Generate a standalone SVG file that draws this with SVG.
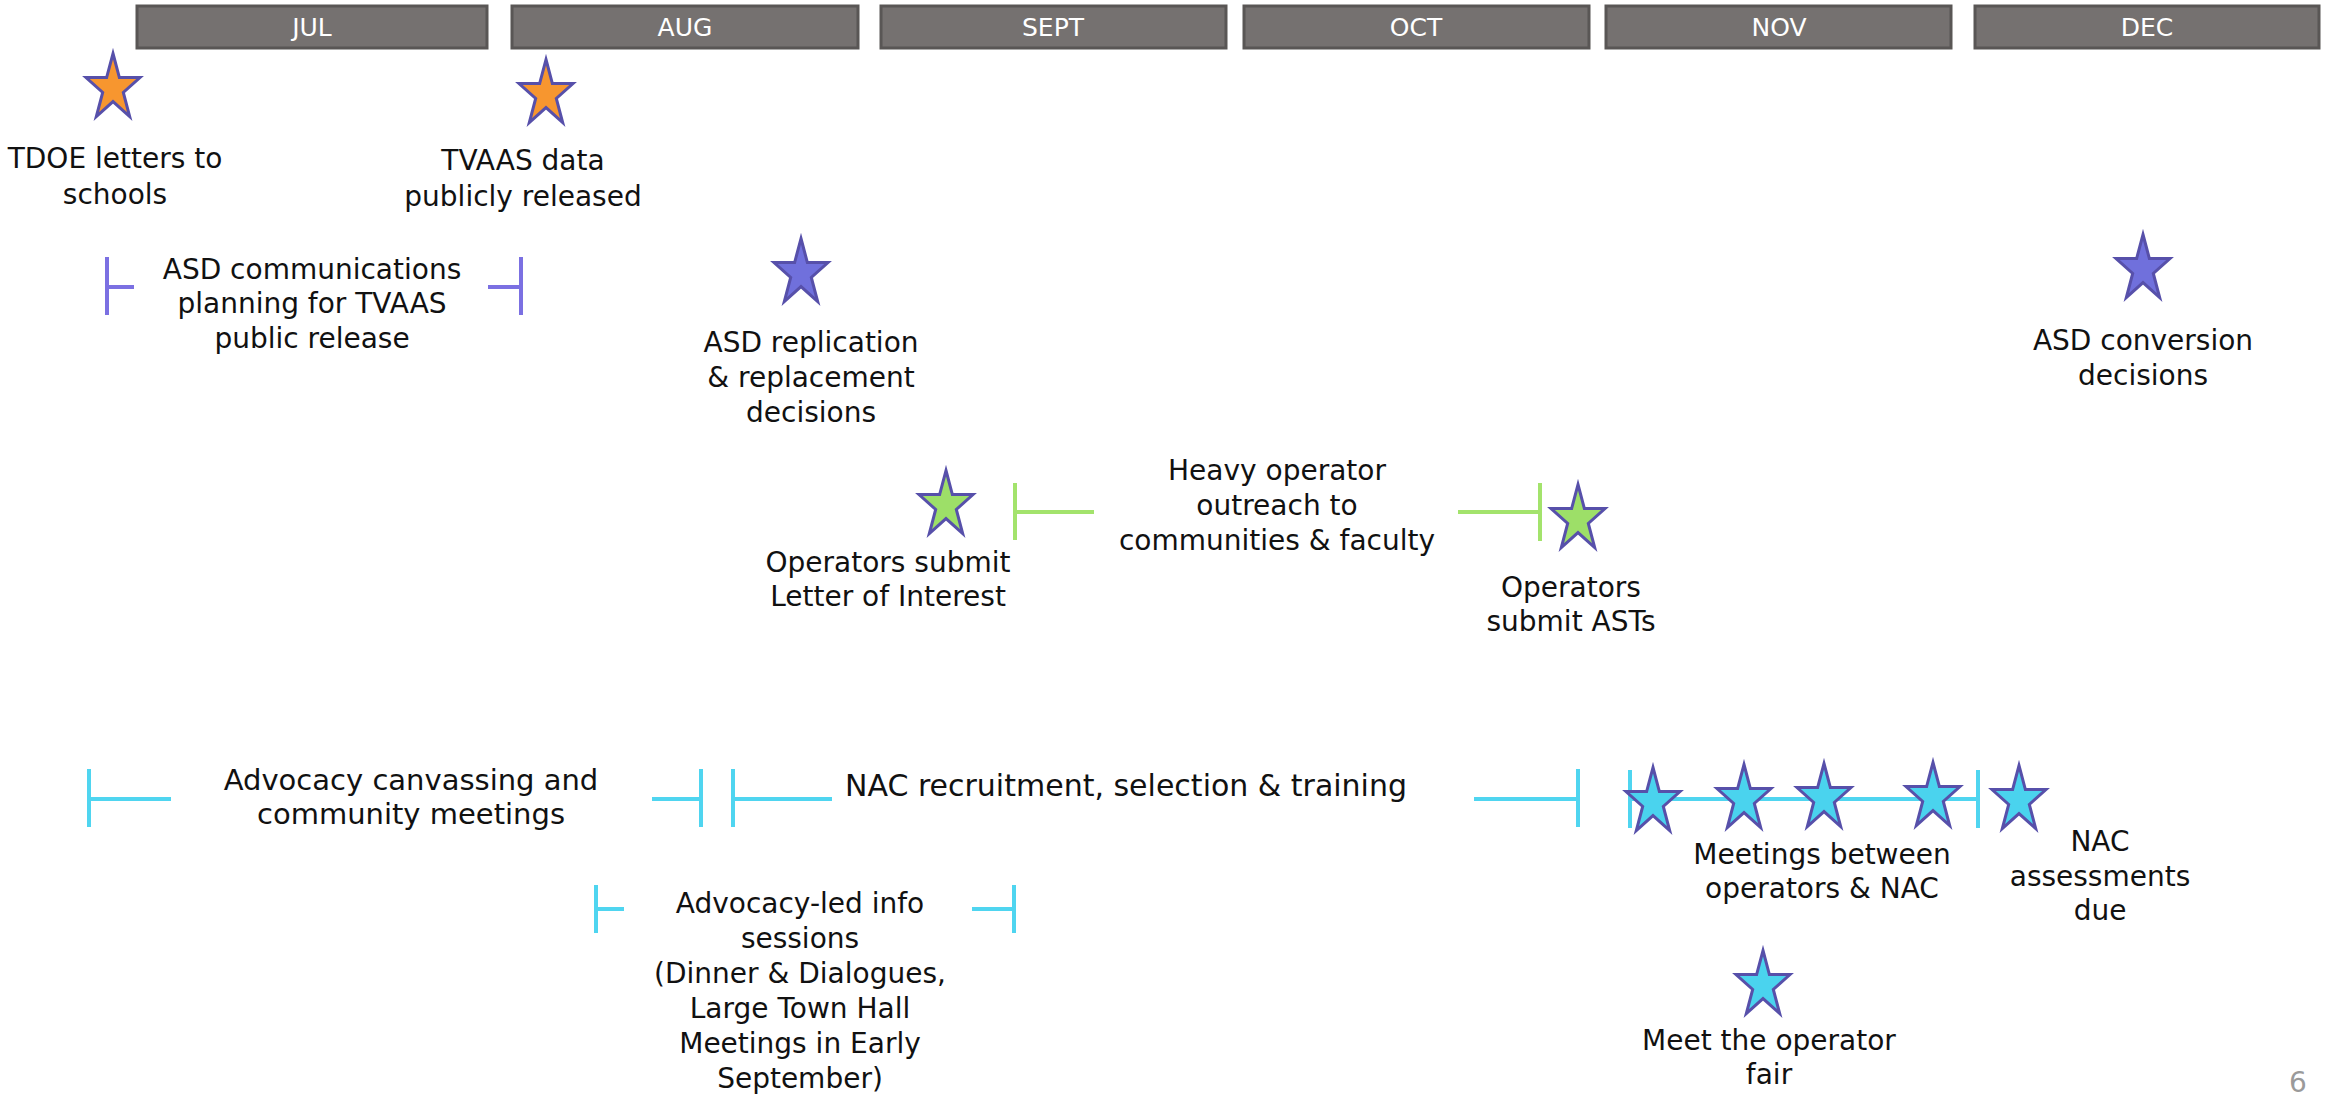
<svg xmlns="http://www.w3.org/2000/svg" xmlns:xlink="http://www.w3.org/1999/xlink" width="2341" height="1096" viewBox="0 0 2341 1096">
<style>
  .month rect { fill: #757170; stroke: #595655; stroke-width: 3; }
  .month text { fill: #ffffff; font-family: "DejaVu Sans", "Liberation Sans", sans-serif; font-size: 25px; text-anchor: middle; }
  .lbl { fill: #111111; font-family: "DejaVu Sans", "Liberation Sans", sans-serif; font-size: 28px; text-anchor: middle; }
  .wide { font-size: 29px; }
  .star { stroke: #5750aa; stroke-width: 3; stroke-linejoin: miter; }
  .orange { fill: #f7962f; }
  .purple { fill: #7070dc; }
  .green { fill: #9ddf68; }
  .cyan { fill: #4ad3ee; }
  .br { fill: none; stroke-width: 4; }
  .brp { stroke: #7b70e2; }
  .brg { stroke: #a3e36c; }
  .brc { stroke: #4fd5f0; }
  .page { fill: #9a9a9a; font-family: "DejaVu Sans", sans-serif; font-size: 28px; text-anchor: middle; }
</style>
<defs>
  <path id="star" d="M0,-31.5 L6.38,-7.44 L26.99,-7.44 L10.31,7.44 L16.68,31.5 L0,16.63 L-16.68,31.5 L-10.31,7.44 L-26.99,-7.44 L-6.38,-7.44 Z"/>
</defs>
<rect width="2341" height="1096" fill="#ffffff"/>

<g id="months">
  <g id="m-jul" class="month"><rect x="137" y="6" width="350" height="42"/><text x="312" y="36">JUL</text></g>
  <g id="m-aug" class="month"><rect x="512" y="6" width="346" height="42"/><text x="685" y="36">AUG</text></g>
  <g id="m-sept" class="month"><rect x="881" y="6" width="345" height="42"/><text x="1053" y="36">SEPT</text></g>
  <g id="m-oct" class="month"><rect x="1244" y="6" width="345" height="42"/><text x="1416" y="36">OCT</text></g>
  <g id="m-nov" class="month"><rect x="1606" y="6" width="345" height="42"/><text x="1779" y="36">NOV</text></g>
  <g id="m-dec" class="month"><rect x="1975" y="6" width="344" height="42"/><text x="2147" y="36">DEC</text></g>
</g>

<g id="connectors">
  <!-- ASD communications planning -->
  <path class="br brp" d="M107,257 V315 M107,287 H134 M488,287 H521 M521,257 V315"/>
  <!-- Heavy operator outreach -->
  <path class="br brg" d="M1015,483 V540 M1015,512 H1094 M1458,512 H1540 M1540,483 V541"/>
  <!-- Advocacy canvassing -->
  <path class="br brc" d="M89,769 V827 M89,799 H171 M652,799 H701 M701,769 V827"/>
  <!-- NAC recruitment -->
  <path class="br brc" d="M733,769 V827 M733,799 H832 M1474,799 H1578 M1578,769 V827"/>
  <!-- Meetings between operators & NAC -->
  <path class="br brc" d="M1630,770 V828 M1630,799 H1978 M1978,770 V828"/>
  <!-- Advocacy-led info sessions -->
  <path class="br brc" d="M596,885 V933 M596,909 H624 M972,909 H1014 M1014,885 V933"/>
</g>

<g id="n-tdoe">
  <use href="#star" class="star orange" transform="translate(113,85)"/>
  <text class="lbl" x="115" y="168">TDOE letters to</text>
  <text class="lbl" x="115" y="204">schools</text>
</g>
<g id="n-tvaas">
  <use href="#star" class="star orange" transform="translate(546,91)"/>
  <text class="lbl" x="523" y="170">TVAAS data</text>
  <text class="lbl" x="523" y="206">publicly released</text>
</g>
<g id="n-asdcomm">
  <text class="lbl" x="312" y="279">ASD communications</text>
  <text class="lbl" x="312" y="313">planning for TVAAS</text>
  <text class="lbl" x="312" y="348">public release</text>
</g>
<g id="n-asdrep">
  <use href="#star" class="star purple" transform="translate(801,270)"/>
  <text class="lbl" x="811" y="352">ASD replication</text>
  <text class="lbl" x="811" y="387">&amp; replacement</text>
  <text class="lbl" x="811" y="422">decisions</text>
</g>
<g id="n-asdconv">
  <use href="#star" class="star purple" transform="translate(2143,266)"/>
  <text class="lbl" x="2143" y="350">ASD conversion</text>
  <text class="lbl" x="2143" y="385">decisions</text>
</g>
<g id="n-loi">
  <use href="#star" class="star green" transform="translate(946,502)"/>
  <text class="lbl" x="888" y="572">Operators submit</text>
  <text class="lbl" x="888" y="606">Letter of Interest</text>
</g>
<g id="n-outreach">
  <text class="lbl" x="1277" y="480">Heavy operator</text>
  <text class="lbl" x="1277" y="515">outreach to</text>
  <text class="lbl" x="1277" y="550">communities &amp; faculty</text>
</g>
<g id="n-asts">
  <use href="#star" class="star green" transform="translate(1578,516)"/>
  <text class="lbl" x="1571" y="597">Operators</text>
  <text class="lbl" x="1571" y="631">submit ASTs</text>
</g>
<g id="n-canvass">
  <text class="lbl wide" x="411" y="790">Advocacy canvassing and</text>
  <text class="lbl wide" x="411" y="824">community meetings</text>
</g>
<g id="n-nacrec">
  <text class="lbl" x="1126" y="796" style="font-size:30px">NAC recruitment, selection &amp; training</text>
</g>
<g id="n-meetings">
  <use href="#star" class="star cyan" transform="translate(1653,799)"/>
  <use href="#star" class="star cyan" transform="translate(1744,796)"/>
  <use href="#star" class="star cyan" transform="translate(1824,795)"/>
  <use href="#star" class="star cyan" transform="translate(1933,794)"/>
  <text class="lbl" x="1822" y="864">Meetings between</text>
  <text class="lbl" x="1822" y="898">operators &amp; NAC</text>
</g>
<g id="n-nacdue">
  <use href="#star" class="star cyan" transform="translate(2019,797)"/>
  <text class="lbl" x="2100" y="851">NAC</text>
  <text class="lbl" x="2100" y="886">assessments</text>
  <text class="lbl" x="2100" y="920">due</text>
</g>
<g id="n-infosessions">
  <text class="lbl" x="800" y="913">Advocacy-led info</text>
  <text class="lbl" x="800" y="948">sessions</text>
  <text class="lbl" x="800" y="983">(Dinner &amp; Dialogues,</text>
  <text class="lbl" x="800" y="1018">Large Town Hall</text>
  <text class="lbl" x="800" y="1053">Meetings in Early</text>
  <text class="lbl" x="800" y="1088">September)</text>
</g>
<g id="n-fair">
  <use href="#star" class="star cyan" transform="translate(1763,982)"/>
  <text class="lbl" x="1769" y="1050">Meet the operator</text>
  <text class="lbl" x="1769" y="1084">fair</text>
</g>
<text class="page" x="2298" y="1092">6</text>
</svg>
